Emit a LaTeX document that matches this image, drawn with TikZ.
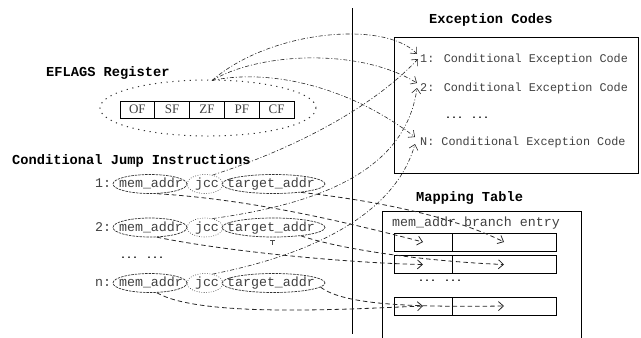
\documentclass[tikz,border=0pt]{standalone}
\usepackage{fontspec}
\usetikzlibrary{arrows.meta,calc,shapes.geometric}
\newfontfamily\monof{Liberation Mono}
\newfontfamily\serf{Liberation Serif}
\begin{document}
\begin{tikzpicture}[x=1bp,y=-1bp,
  txt/.style={font=\monof\fontsize{13.3bp}{15bp}\selectfont, text=black!75, inner sep=0pt, text height=7.6bp, text depth=0bp},
  etxt/.style={font=\monof\fontsize{11.8bp}{14bp}\selectfont, text=black!75, inner sep=0pt, text height=7bp, text depth=0bp},
  ttl/.style={font=\monof\bfseries\fontsize{13.7bp}{16bp}\selectfont, inner sep=0pt},
  dotsty/.style={font=\monof\bfseries\fontsize{10bp}{12bp}\selectfont, inner sep=0pt},
  cell/.style={draw, line width=0.8bp, rectangle, minimum width=34.8bp, minimum height=17bp, inner sep=0pt, font=\serf\fontsize{13bp}{15bp}\selectfont, text=black!75},
  mrow/.style={draw, line width=0.8bp, rectangle, minimum height=18bp, inner sep=0pt},
  memell/.style={ellipse, draw=black!80, line width=0.7bp, dash pattern=on 2.5bp off 1bp, minimum width=74bp, minimum height=19bp, inner sep=0pt},
  jccell/.style={ellipse, draw=black!70, line width=0.6bp, dash pattern=on 0.8bp off 1.6bp, minimum width=36bp, minimum height=19bp, inner sep=0pt},
  tgtell/.style={ellipse, draw=black!80, line width=0.7bp, dash pattern=on 2.5bp off 1bp, minimum width=103bp, minimum height=19bp, inner sep=0pt},
  tip/.style={-{Straight Barb[length=5bp,width=9bp]}},
  dd/.style={tip, line width=0.6bp, draw=black!85, dash pattern=on 4bp off 2bp on 1bp off 2bp},
  dsh/.style={tip, line width=0.8bp, draw=black!85, dash pattern=on 4.5bp off 3bp},
]
\useasboundingbox (0,0) rectangle (641,337);

% titles
\node[ttl, anchor=base west] (tex) at (429,23) {Exception Codes};
\node[ttl, anchor=base west] (tef) at (46,76) {EFLAGS Register};
\node[ttl, anchor=base west] (tcj) at (12,164) {Conditional Jump Instructions};
\node[ttl, anchor=base west] (tmt) at (416,201) {Mapping Table};

% divider
\coordinate (vtop) at (352,8);
\coordinate (vbot) at (352,334);
\draw[line width=0.9bp] (vtop) -- (vbot);

% EFLAGS register
\node[ellipse, draw=black!80, line width=1bp, dash pattern=on 1.2bp off 4.6bp, minimum width=216bp, minimum height=56bp, inner sep=0pt] (efl) at (208,108) {};
\node[cell] (ofc) at (137.4,109.5) {OF};
\node[cell] (sfc) at (172.2,109.5) {SF};
\node[cell] (zfc) at (207.0,109.5) {ZF};
\node[cell] (pfc) at (241.8,109.5) {PF};
\node[cell] (cfc) at (276.6,109.5) {CF};

% Exception codes box
\node[draw, line width=0.8bp, minimum width=244bp, minimum height=136bp, inner sep=0pt] (exbox) at (516,105) {};
\node[etxt, anchor=base west] (ex1) at (420,62) {1: Conditional Exception Code};
\node[etxt, anchor=base west] (ex2) at (420,91) {2: Conditional Exception Code};
\node[dotsty, anchor=base west] (exd) at (445,118) {... ...};
\node[etxt, anchor=base west] (exN) at (420,145) {N: Conditional Exception Code};

% Mapping table
\coordinate (mtl) at (382,211);
\coordinate (mtr) at (581,211);
\coordinate (mbl) at (382,345);
\coordinate (mbr) at (581,345);
\draw[line width=0.8bp] (mbl) -- (mtl) -- (mtr) -- (mbr);
\node[txt, anchor=base west] (hdr) at (392,226) {mem\_addr branch entry};
\node[mrow, minimum width=58bp] (r1a) at (423,242) {};
\node[mrow, minimum width=104bp] (r1b) at (504,242) {};
\node[mrow, minimum width=58bp] (r2a) at (423,264.5) {};
\node[mrow, minimum width=104bp] (r2b) at (504,264.5) {};
\node[dotsty, anchor=base west] (mtd) at (418,281) {... ...};
\node[mrow, minimum width=58bp] (r3a) at (423,306) {};
\node[mrow, minimum width=104bp] (r3b) at (504,306) {};

% Instructions
\foreach \r/\y/\lab in {1/184/1:, 2/227.5/2:, n/283/n:} {
  \node[txt, anchor=west] (l\r) at (95,\y) {\lab};
  \node[memell] (m\r) at (150,\y) {};
  \node[txt] (mt\r) at (151,\y) {mem\_addr};
  \node[jccell] (j\r) at (205,\y) {};
  \node[txt] (jt\r) at (207,\y) {jcc};
  \node[tgtell] (t\r) at (273.5,\y) {};
  \node[txt] (tt\r) at (271,\y) {target\_addr};
}
\node[dotsty, anchor=base west] (rd) at (120,258) {... ...};
\draw[black!70, line width=0.6bp] (270,240.5) -- (275,240.5) (272.5,240.5) -- (272.5,245);

% EFLAGS -> exception codes
\coordinate (efs) at ($(efl.north)+(4,1)$);
\draw[dd] (efs) .. controls (270,30) and (385,20) .. ($(ex1.west)+(-3,-4.5)$);
\draw[dd] (efs) .. controls (260,52) and (360,48) .. ($(ex2.west)+(-3,-4.5)$);
\draw[dd] (efs) .. controls (260,70) and (340,80) .. ($(exN.west)+(-5,-4.5)$);

% jcc -> exception codes
\draw[dd] (j1.50) .. controls (290,150) and (370,110) .. ($(ex1.west)+(-2,0.5)$);
\draw[dd] (j2.50) .. controls (310,205) and (405,175) .. ($(ex2.west)+(-3,0.5)$);
\draw[dd] (jn.50) .. controls (310,255) and (395,215) .. ($(exN.west)+(-5,2.5)$);

% addresses -> mapping table
\draw[dsh] (m1.-55) .. controls (260,200) and (360,226) .. (r1a.center);
\draw[dsh] (t1.-17) .. controls (370,200) and (450,215) .. (r1b.center);
\draw[dsh] (m2.-55) .. controls (230,252) and (350,263) .. (r2a.center);
\draw[dsh] (t2.-17) .. controls (350,252) and (440,262) .. (r2b.center);
\draw[dsh] (mn.-55) .. controls (200,318) and (350,309) .. (r3a.center);
\draw[dsh] (tn.-5) .. controls (345,306) and (420,307) .. (r3b.center);
\end{tikzpicture}
\end{document}
